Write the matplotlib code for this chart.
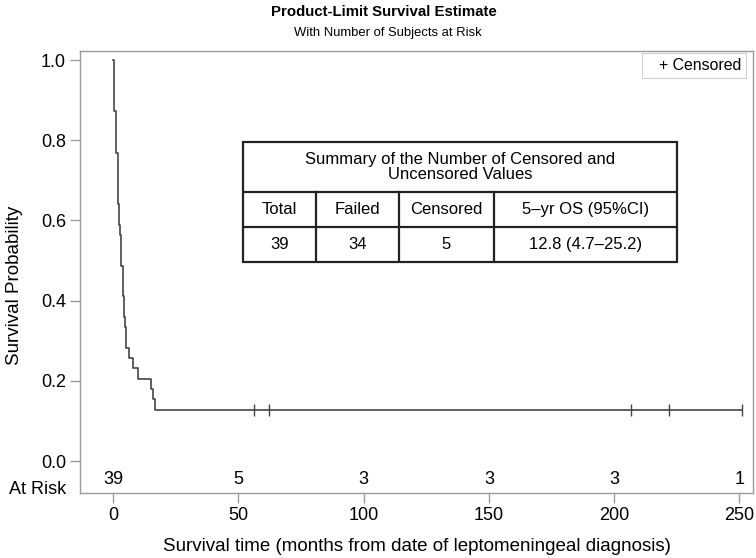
import numpy as np
import matplotlib
matplotlib.use("Agg")
import matplotlib.pyplot as plt
from matplotlib.patches import Rectangle

plt.rcParams['font.family'] = ['Liberation Sans', 'DejaVu Sans']

# ---- data ----
event_times = [0.2, 0.9, 1.2, 1.7, 2.1, 2.7, 3.2, 3.7, 4.1, 4.7, 5.1, 6.3, 7.7, 9.7, 15.2, 15.9, 16.6]
event_deaths = [5, 1, 3, 5, 2, 1, 3, 3, 2, 1, 2, 1, 1, 1, 1, 1, 1]
censor_times = [56.2, 62.3, 206.7, 222.1, 251.0]
n_total = 39

risk_times = [0, 50, 100, 150, 200, 250]
risk_counts = [39, 5, 3, 3, 3, 1]

table_header = "Summary of the Number of Censored and\nUncensored Values"
table_cols = ["Total", "Failed", "Censored", "5\u2013yr OS (95%CI)"]
table_vals = ["39", "34", "5", "12.8 (4.7\u201325.2)"]

# ---- Kaplan-Meier ----
surv = [1.0]
times = [0.0]
at_risk = n_total
s = 1.0
for t, d in zip(event_times, event_deaths):
    s *= (at_risk - d) / at_risk
    at_risk -= d
    times.append(t)
    surv.append(s)
end_t = max(censor_times)
times.append(end_t)
surv.append(s)

def s_at(t):
    idx = np.searchsorted(times, t, side='right') - 1
    return surv[idx]

W, H = 756, 558
fig = plt.figure(figsize=(W / 100, H / 100), dpi=100)
L, R, T, B = 80, 753, 50.7, 493.3
ax = fig.add_axes([L / W, 1 - B / H, (R - L) / W, (B - T) / H])

ax.step(times, surv, where='post', color='#444444', lw=1.2)
ax.plot(censor_times, [s_at(t) for t in censor_times], linestyle='none',
        marker='|', markersize=8, mew=1.0, color='#444444')

ax.set_xlim(-13.3, 255.5)
ax.set_ylim(-0.0805, 1.0232)
ax.set_xticks([0, 50, 100, 150, 200, 250])
ax.set_yticks([0.0, 0.2, 0.4, 0.6, 0.8, 1.0])
ax.set_yticklabels(["0.0", "0.2", "0.4", "0.6", "0.8", "1.0"])
ax.tick_params(axis='both', labelsize=13, color='#9a9a9a', length=7, width=1, pad=3)
for sp in ax.spines.values():
    sp.set_color('#9a9a9a')
    sp.set_linewidth(1.0)

# at-risk row
ytr = ax.get_yaxis_transform()
ax.text(-0.02, -0.07, "At Risk", transform=ytr, ha='right', va='center', fontsize=13)
for t, c in zip(risk_times, risk_counts):
    ax.text(t, -0.045, str(c), ha='center', va='center', fontsize=13)

ax.set_xlabel("Survival time (months from date of leptomeningeal diagnosis)", fontsize=13.5, labelpad=10)
ax.set_ylabel("Survival Probability", fontsize=13.5)
ax.yaxis.set_label_coords(-0.085, 0.4706)

fig.text(0.5 + 6 / W, 1 - 12 / H, "Product-Limit Survival Estimate", ha='center', va='center',
         fontsize=10.8, fontweight='bold')
fig.text(0.5 + 10 / W, 1 - 33 / H, "With Number of Subjects at Risk", ha='center', va='center', fontsize=9.4)

# legend
leg_ax = fig.add_axes([642 / W, 1 - 78 / H, (746 - 642) / W, (78 - 53) / H])
leg_ax.set_xlim(0, 1); leg_ax.set_ylim(0, 1)
leg_ax.set_xticks([]); leg_ax.set_yticks([])
for sp in leg_ax.spines.values():
    sp.set_color('#d0d0d0')
leg_ax.text(0.56, 0.5, "+ Censored", ha='center', va='center', fontsize=11.4)

# summary table
tx0, tx1, ty0, ty1 = 243, 677, 142, 262
tab = fig.add_axes([tx0 / W, 1 - ty1 / H, (tx1 - tx0) / W, (ty1 - ty0) / H])
tab.set_xlim(tx0, tx1); tab.set_ylim(ty1, ty0)
tab.axis('off')
lc = '#222222'
tab.add_patch(Rectangle((tx0, ty0), tx1 - tx0, ty1 - ty0, fill=False, ec=lc, lw=1.6, clip_on=False))
row1, row2 = 192, 227
tab.plot([tx0, tx1], [row1, row1], color=lc, lw=1.6)
tab.plot([tx0, tx1], [row2, row2], color=lc, lw=1.6)
col_edges = [tx0, 316, 399, 494, tx1]
for xe in col_edges[1:-1]:
    tab.plot([xe, xe], [row1, ty1], color=lc, lw=1.6)
tab.text((tx0 + tx1) / 2, (ty0 + row1) / 2, table_header, ha='center', va='center',
         fontsize=12, linespacing=1.05)
for i in range(4):
    xc = (col_edges[i] + col_edges[i + 1]) / 2
    tab.text(xc, (row1 + row2) / 2, table_cols[i], ha='center', va='center', fontsize=12)
    tab.text(xc, (row2 + ty1) / 2, table_vals[i], ha='center', va='center', fontsize=12)

fig.savefig("out.png", dpi=100)
